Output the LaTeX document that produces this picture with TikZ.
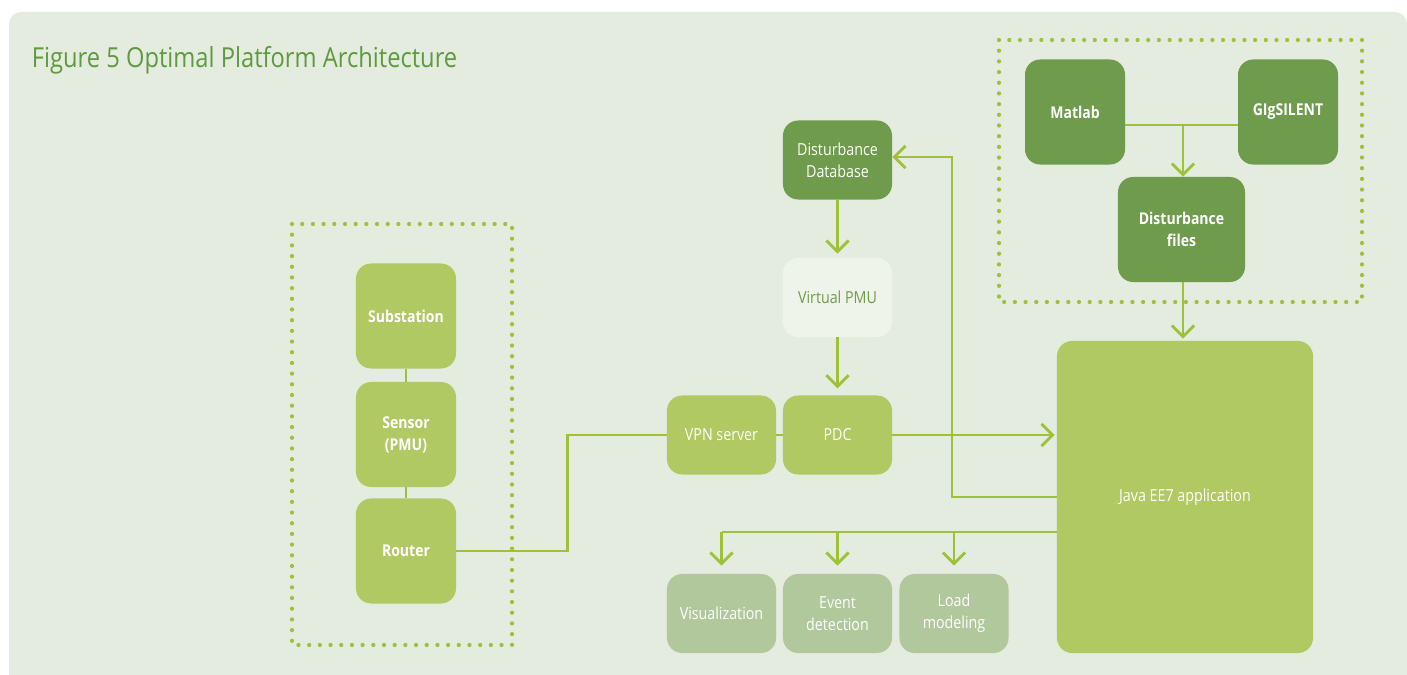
\documentclass[tikz,border=0pt]{standalone}
\usepackage{fontspec}
\setmainfont{Open Sans}[FakeStretch=0.86]
\usepackage{tikz}
\usetikzlibrary{arrows.meta, calc, positioning}
\definecolor{bgGreen}{HTML}{E4EBDF}
\definecolor{lineGreen}{HTML}{9DC23A}
\definecolor{boxLight}{HTML}{B0C962}
\definecolor{boxDark}{HTML}{6E9B4C}
\definecolor{boxPale}{HTML}{EFF4EA}
\definecolor{boxGrey}{HTML}{B0C89C}
\definecolor{titleGreen}{HTML}{5F9A3E}
\newcommand{\flowArrow}{{Straight Barb[length=2.8mm, width=5.6mm]}}

\begin{document}
\begin{tikzpicture}[x=0.025cm, y=-0.025cm,
	box/.style={rounded corners=0.38cm, inner sep=0pt, align=center, text=white, font=\fontsize{11.8}{15.6}\selectfont},
	heavy/.style={font=\bfseries\fontsize{11.6}{15.6}\selectfont},
	lightbox/.style={box, fill=boxLight},
	darkbox/.style={box, fill=boxDark},
	smallbox/.style={minimum width=2.725cm, minimum height=1.975cm},
	tallbox/.style={minimum width=2.5cm, minimum height=2.625cm},
	flow/.style={draw=lineGreen, line width=2pt},
	dotbox/.style={draw=lineGreen, line width=3pt, line cap=round, dash pattern=on 0pt off 7.6pt}]
	\useasboundingbox (0,0) rectangle (1407,675);
	\fill[bgGreen, rounded corners=0.3cm] (9,12) rectangle (1407,720);
	\node[anchor=west, text=titleGreen, font=\fontsize{19.6}{22}\selectfont] (title) at (27,60) {Figure 5 Optimal Platform Architecture};

	% field side
	\draw[dotbox] (292,224) rectangle (512,645);
	\node[lightbox, tallbox, heavy] (sub) at (406,316) {Substation};
	\node[lightbox, tallbox, heavy] (sensor) at (406,434.5) {Sensor\\(PMU)};
	\node[lightbox, tallbox, heavy] (router) at (406,551) {Router};

	% middle column
	\node[darkbox, smallbox] (ddb) at (837.5,160) {Disturbance\\Database};
	\node[box, smallbox, fill=boxPale, text=boxDark] (vpmu) at (837.5,297.5) {Virtual PMU};
	\node[lightbox, smallbox] (vpn) at (721.5,435) {VPN server};
	\node[lightbox, smallbox] (pdc) at (837.5,435) {PDC};
	\node[box, smallbox, fill=boxGrey] (vis) at (721.5,613.5) {Visualization};
	\node[box, smallbox, fill=boxGrey] (evt) at (837.5,613.5) {Event\\detection};
	\node[box, smallbox, fill=boxGrey] (load) at (954,613.5) {Load\\modeling};

	% simulation tools
	\draw[dotbox] (999,40) rectangle (1362,302);
	\node[darkbox, tallbox, heavy] (matlab) at (1075,112) {Matlab};
	\node[darkbox, tallbox, heavy] (gig) at (1288,112) {GIgSILENT};
	\node[darkbox, minimum width=3.175cm, minimum height=2.625cm, heavy] (dfiles) at (1181.5,229.5) {Disturbance\\files};

	\node[lightbox, minimum width=6.4cm, minimum height=7.8cm] (java) at (1185,497) {Java EE7 application};

	\coordinate (fork) at (1183,125);
	\coordinate (loopup) at (952,157);
	\coordinate (fan) at (721.5,532);

	% connectors
	\draw[flow, line width=1.6pt] (sub) -- (sensor) (sensor) -- (router);
	\draw[flow] (router.east) -- ++(111,0) |- (vpn.west);
	\draw[flow] (vpn) -- (pdc);
	\draw[flow, -\flowArrow, shorten >=0.1cm] (ddb) -- (vpmu);
	\draw[flow, -\flowArrow, shorten >=0.17cm] (vpmu) -- (pdc);
	\draw[flow, -\flowArrow, shorten >=0.05cm] (pdc) -- (java.west |- pdc);
	\draw[flow, -\flowArrow] (java.west) -| (loopup) -- (ddb.east |- loopup);
	\draw[flow] (matlab.east |- fork) -- (gig.west |- fork);
	\draw[flow, -\flowArrow] (fork) -- (fork |- dfiles.north);
	\draw[flow, -\flowArrow, shorten >=0.05cm] (fork |- dfiles.south) -- (fork |- java.north);
	\draw[flow] (java.west |- fan) -- (fan);
	\foreach \target in {vis, evt, load}
		\draw[flow, -\flowArrow, shorten >=0.2cm] (\target.north |- fan) -- (\target.north);

\end{tikzpicture}
\end{document}
